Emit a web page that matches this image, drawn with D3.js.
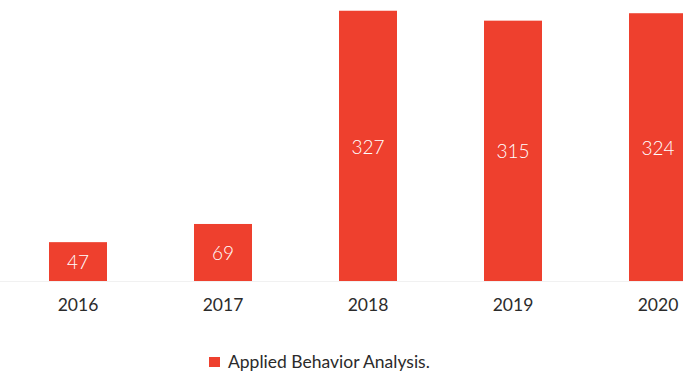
<!DOCTYPE html>
<html>
<head>
<meta charset="utf-8">
<script src="https://cdn.jsdelivr.net/npm/d3@7"></script>
<style>
  html, body { margin: 0; padding: 0; background: #fff; overflow: hidden; }
  svg { display: block; font-family: Lato, "Open Sans", sans-serif; }
</style>
</head>
<body>
<svg id="chart" width="683" height="374"></svg>
<script>
// Yearly counts for the single series
const years = ["2016", "2017", "2018", "2019", "2020"];
const values = [47, 69, 327, 315, 324];
const seriesName = "Applied Behavior Analysis.";
const barColor = "#ee402e";

const svg = d3.select("#chart");
const baseY = 281;

const x = d3.scaleBand()
  .domain(years)
  .range([5.5, 730.5])
  .paddingInner(0.6)
  .paddingOuter(0.3);

const y = d3.scaleLinear()
  .domain([0, 340])
  .range([baseY, 0]);

// faint baseline
svg.append("line")
  .attr("x1", 0).attr("x2", 683)
  .attr("y1", baseY + 0.5).attr("y2", baseY + 0.5)
  .attr("stroke", "#f1f1f1").attr("stroke-width", 1);

// bars
svg.append("g").selectAll("rect")
  .data(values)
  .join("rect")
  .attr("x", (d, i) => x(years[i]))
  .attr("y", d => y(d))
  .attr("width", x.bandwidth())
  .attr("height", d => y(0) - y(d))
  .attr("fill", barColor);

// value labels centred inside the bars
svg.append("g").selectAll("text")
  .data(values)
  .join("text")
  .attr("x", (d, i) => x(years[i]) + x.bandwidth() / 2)
  .attr("y", d => (y(d) + y(0)) / 2 + 1)
  .attr("dy", "0.35em")
  .attr("text-anchor", "middle")
  .attr("fill", "#fff")
  .attr("font-size", 19)
  .attr("font-weight", 300)
  .text(d => d);

// category axis
const axis = svg.append("g")
  .attr("transform", `translate(0,${baseY})`)
  .call(d3.axisBottom(x).tickSize(0).tickPadding(0));
axis.select(".domain").remove();
axis.selectAll("text")
  .attr("y", 24)
  .attr("dy", "0.35em")
  .attr("font-size", 17.5)
  .attr("font-family", "Lato, 'Open Sans', sans-serif")
  .attr("fill", "#2b2b2b");

// legend
const legend = svg.append("g").attr("transform", "translate(209,362)");
legend.append("rect")
  .attr("x", 0).attr("y", -5)
  .attr("width", 11).attr("height", 10)
  .attr("fill", barColor);
legend.append("text")
  .attr("x", 19).attr("y", 0)
  .attr("dy", "0.35em")
  .attr("font-size", 17.5)
  .attr("fill", "#2b2b2b")
  .text(seriesName);
</script>
</body>
</html>
